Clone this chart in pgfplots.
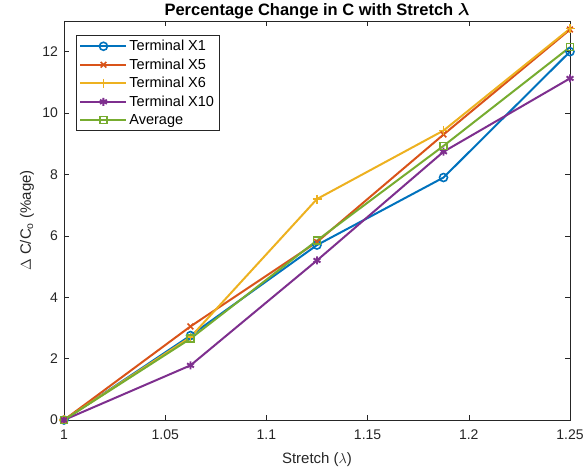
\documentclass[border=0pt]{standalone}
\usepackage{amsmath}
\usepackage{fontspec}
\setmainfont{Liberation Sans}
\usepackage{pgfplots}
\pgfplotsset{compat=1.18}
\definecolor{mblue}{rgb}{0,0.447,0.741}
\definecolor{mred}{rgb}{0.85,0.325,0.098}
\definecolor{myellow}{rgb}{0.929,0.694,0.125}
\definecolor{mpurple}{rgb}{0.494,0.184,0.556}
\definecolor{mgreen}{rgb}{0.466,0.674,0.188}
\definecolor{axgray}{rgb}{0.15,0.15,0.15}
\begin{document}
\begin{tikzpicture}
\useasboundingbox (-64pt,-56pt) rectangle (522pt,420pt);
\begin{axis}[
  scale only axis,
  width=506pt, height=399pt,
  at={(0,0)}, anchor=south west,
  xmin=1, xmax=1.25, ymin=0, ymax=13,
  xtick={1,1.05,1.1,1.15,1.2,1.25},
  xticklabels={1,1.05,1.1,1.15,1.2,1.25},
  ytick={0,2,4,6,8,10,12},
  tick align=inside,
  tick pos=both,
  major tick length=5pt,
  axis line style={draw=axgray, line width=0.6pt},
  tick style={axgray, line width=0.6pt},
  ticklabel style={font=\fontsize{14}{16}\selectfont, axgray},
  xticklabel style={yshift=-6pt},
  yticklabel style={xshift=-2.5pt},
  /pgf/number format/assume math mode=true,
  xlabel={Stretch (\(\lambda\))},
  ylabel={\(\Delta\) C/C\textsubscript{o} (\%age)},
  label style={font=\fontsize{15}{17}\selectfont, axgray},
  xlabel style={at={(axis description cs:0.5,-0.1)}, anchor=center},
  ylabel style={at={(axis description cs:-0.073,0.5)}, anchor=center},
  title={\textbf{Percentage Change in C with Stretch \(\boldsymbol{\lambda}\)}},
  title style={font=\fontsize{16.5}{18}\selectfont, at={(axis description cs:0.5,1)}, anchor=center, yshift=4pt},
  legend style={at={(0.024,0.965)}, anchor=north west, font=\fontsize{14.5}{16.5}\selectfont,
    draw=axgray, line width=0.6pt, row sep=2.5pt, inner sep=3pt},
  legend cell align=left,
  legend image code/.code={%
    \draw[mark repeat=2,mark phase=2, line width=2pt] plot coordinates {(0pt,0pt) (23pt,0pt) (46pt,0pt)};},
]
\addplot[mblue, line width=2pt, mark=o, mark size=4pt, mark options={line width=1.6pt}] coordinates {
  (1,0) (1.0625,2.75) (1.125,5.7) (1.1875,7.9) (1.25,12.0)};
\addlegendentry{Terminal X1}
\addplot[mred, line width=2pt, mark=x, mark size=4pt, mark options={line width=1.6pt}] coordinates {
  (1,0) (1.0625,3.05) (1.125,5.8) (1.1875,9.3) (1.25,12.72)};
\addlegendentry{Terminal X5}
\addplot[myellow, line width=2pt, mark=+, mark size=4.5pt, mark options={line width=1.6pt}] coordinates {
  (1,0) (1.0625,2.7) (1.125,7.2) (1.1875,9.43) (1.25,12.75)};
\addlegendentry{Terminal X6}
\addplot[mpurple, line width=2pt, mark=asterisk, mark size=4pt, mark options={line width=1.9pt}] coordinates {
  (1,0) (1.0625,1.78) (1.125,5.2) (1.1875,8.74) (1.25,11.13)};
\addlegendentry{Terminal X10}
\addplot[mgreen, line width=2pt, mark=square, mark size=3.5pt, mark options={line width=1.6pt}] coordinates {
  (1,0) (1.0625,2.65) (1.125,5.85) (1.1875,8.93) (1.25,12.15)};
\addlegendentry{Average}
\end{axis}
\end{tikzpicture}
\end{document}
